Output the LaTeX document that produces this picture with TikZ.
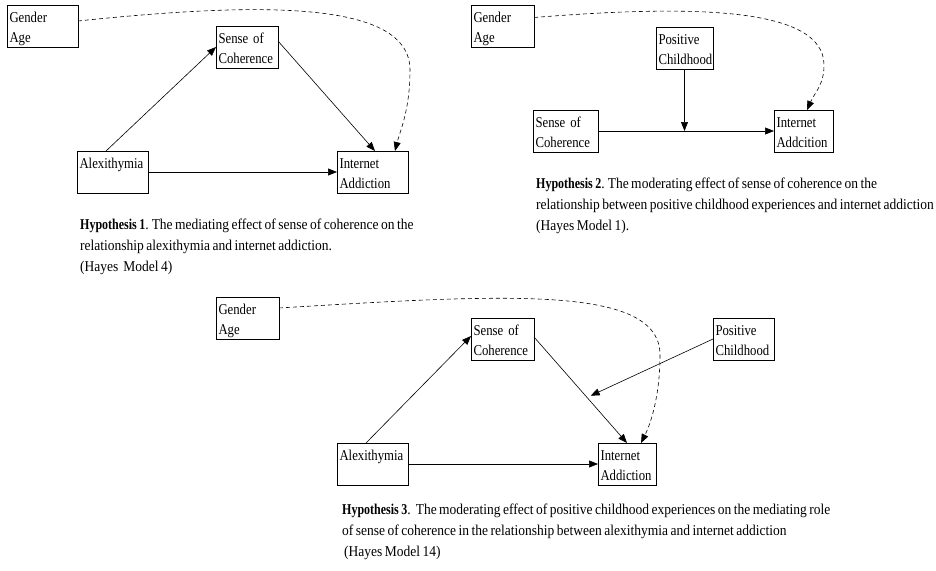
\documentclass[tikz,border=0pt]{standalone}
\usepackage{fontspec}
\setmainfont{Liberation Serif}[FakeStretch=0.85]
\newfontfamily\capfont{Liberation Serif}[FakeStretch=0.9,BoldFeatures={FakeStretch=0.8}]
\newcommand\capsize{\capfont\fontsize{15}{21}\selectfont}
\usetikzlibrary{arrows.meta,calc}

\begin{document}
\begin{tikzpicture}[x=1pt,y=-1pt]
\useasboundingbox (0,0) rectangle (936,570);
\begin{scope}[every node/.style={draw,line width=0.7pt,anchor=north west,inner xsep=2.5pt,inner ysep=0pt,outer sep=0pt,text height=17pt,text depth=25pt,font=\fontsize{15}{20}\selectfont}]
    % hypothesis 1
    \node[text width=66pt] (ga1) at (7,5) {Gender\\Age};
    \node[text width=57pt] (soc1) at (216,26) {Sense of\\Coherence};
    \node[text width=66pt] (alex1) at (77,151) {Alexithymia};
    \node[text width=66pt] (ia1) at (337,151) {Internet\\Addiction};
    % hypothesis 2
    \node[text width=58pt] (ga2) at (471,5) {Gender\\Age};
    \node[text width=52pt] (pc2) at (656,27) {Positive\\Childhood};
    \node[text width=60pt] (soc2) at (533,110) {Sense of\\Coherence};
    \node[text width=54pt] (ia2) at (774,110) {Internet\\Addcition};
    % hypothesis 3
    \node[text width=58pt] (ga3) at (216,297) {Gender\\Age};
    \node[text width=58pt] (soc3) at (471,318) {Sense of\\Coherence};
    \node[text width=56pt] (pc3) at (713,318) {Positive\\Childhood};
    \node[text width=66pt] (alex3) at (337,443) {Alexithymia};
    \node[text width=53pt] (ia3) at (598,443) {Internet\\Addiction};
\end{scope}
\begin{scope}[every node/.style={anchor=base west,inner sep=0pt,font=\capsize,execute at begin node={\spaceskip=2.5pt\relax\xspaceskip=3pt\relax}}]
    \node[text width=420pt] (cap1) at (80,229) {\textbf{Hypothesis 1}. The mediating effect of sense of coherence on the\\relationship alexithymia and internet addiction.\\(Hayes\ \ Model 4)};
    \node[text width=420pt] (cap2) at (536,188) {\textbf{Hypothesis 2}. The moderating effect of sense of coherence on the\\relationship between positive childhood experiences and internet addiction\\(Hayes Model 1).};
    \node[text width=560pt] (cap3) at (342,514) {\textbf{Hypothesis 3}.\ \ The moderating effect of positive childhood experiences on the mediating role\\of sense of coherence in the relationship between alexithymia and internet addiction\\\hspace{2pt}(Hayes Model 14)};
\end{scope}
\coordinate (t1) at (410,70);
\coordinate (t2) at (824,65);
\coordinate (t3) at (660,355);
\coordinate (m2) at (pc2.south |- soc2.east);
\coordinate (m3) at ($([yshift=2pt]soc3.east)!0.57!(ia3.north)$);
\begin{scope}[every edge/.style={draw,line width=0.6pt,-{Triangle[length=9pt,width=7pt]}}]
    \path ([xshift=-6.5pt]alex1.north) edge (soc1.west);
    \path ([yshift=6pt]soc1.east) edge ([xshift=2.5pt]ia1.north);
    \path (alex1.east) edge (ia1.west);
    \path (pc2.south) edge (m2);
    \path (soc2.east) edge (ia2.west);
    \path ([xshift=-6.5pt]alex3.north) edge ([yshift=3pt]soc3.west);
    \path ([yshift=2pt]soc3.east) edge (ia3.north);
    \path (alex3.east) edge (ia3.west);
    \path[shorten >=4pt] (pc3.west) edge (m3);
\end{scope}
\begin{scope}[line width=0.6pt,dash pattern=on 4pt off 3pt,-{Triangle[length=9pt,width=7pt]}]
    \draw ([yshift=5pt]ga1.east) .. controls +(182,-19) and +(0,-70) .. (t1)
        .. controls +(0,40) and +(5,-20) .. ([xshift=-13pt]ia1.north east);
    \draw ([yshift=8.5pt]ga2.east) .. controls +(150,-12) and +(0,-60) .. (t2)
        .. controls +(0,20) and +(8,-18) .. ([xshift=3.5pt]ia2.north);
    \draw ([yshift=10pt]ga3.east) .. controls +(230,-14) and +(0,-70) .. (t3)
        .. controls +(0,40) and +(10,-20) .. ([xshift=14pt]ia3.north);
\end{scope}
\end{tikzpicture}
\end{document}
